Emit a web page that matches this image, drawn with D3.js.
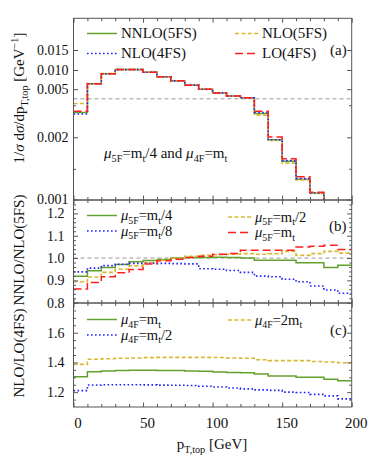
<!DOCTYPE html>
<html><head><meta charset="utf-8">
<script src="https://cdn.jsdelivr.net/npm/d3@7"></script>
<style>
body{margin:0;background:#fff;}
svg{display:block;font-family:"Liberation Serif","Times New Roman",serif;}
</style></head><body>
<svg id="c" width="374" height="462"></svg>
<script>
// ---------------- data ----------------
const binEdges = [0,10,20,30,40,50,60,70,80,90,100,110,120,130,140,150,160,170,180,190,200];
const xTicksMajor = [0,50,100,150,200];
const xTicksMinor = [10,20,30,40,60,70,80,90,110,120,130,140,160,170,180,190];

// panel (a): normalized distributions
const distNNLO5F = [0.00355,0.0064,0.00903,0.0101,0.0101,0.0094,0.00824,0.00718,0.00605,0.0050,0.00477,0.00458,0.00446,0.00349,0.00196,0.00162,0.00133,0.00110,0.0008,0.0008];
const distNLO5F  = [0.00411,0.0065,0.00905,0.0101,0.0101,0.0094,0.00824,0.00718,0.00605,0.0050,0.00477,0.00458,0.00446,0.00338,0.00195,0.00159,0.00132,0.00110,0.0008,0.0008];
const distNLO4F  = [0.00345,0.0064,0.00903,0.0101,0.0101,0.0094,0.00824,0.00718,0.00605,0.0050,0.00477,0.00458,0.00446,0.00355,0.00196,0.00163,0.00134,0.00111,0.0008,0.0008];
const distLO4F   = [0.00363,0.0064,0.00903,0.0101,0.0101,0.0094,0.00824,0.00718,0.00605,0.0050,0.00477,0.00458,0.00446,0.00363,0.00202,0.00166,0.00137,0.00112,0.0008,0.0008];
const distRefLine = 0.0044;
const yTicksA = [0.001,0.002,0.005,0.010,0.015];
const yMinorA = [0.0015,0.004];

// panel (b): NNLO/NLO (5FS)
const r5F_mt4 = [0.919,0.943,0.958,0.971,0.983,0.989,0.994,1.000,1.003,1.003,1.004,1.003,1.000,0.990,0.990,0.990,0.979,0.979,0.958,0.968];
const r5F_mt2 = [0.894,0.915,0.936,0.950,0.965,0.980,0.990,1.000,1.008,1.012,1.015,1.017,1.020,1.017,1.020,1.030,1.012,1.020,1.030,1.022];
const r5F_mt8 = [0.938,0.955,0.966,0.972,0.976,0.977,0.976,0.975,0.974,0.952,0.950,0.944,0.936,0.919,0.916,0.905,0.894,0.875,0.857,0.842];
const r5F_mt1 = [0.861,0.891,0.916,0.934,0.949,0.973,0.988,0.995,1.003,1.008,1.017,1.020,1.035,1.035,1.035,1.035,1.050,1.053,1.057,1.038];
const yTicksB = [0.8,0.9,1.0,1.1,1.2];
const yMinorB = [0.82,0.84,0.86,0.88,0.92,0.94,0.96,0.98,1.02,1.04,1.06,1.08,1.12,1.14,1.16,1.18,1.22,1.24];

// panel (c): NLO/LO (4FS)
const r4F_mt1  = [1.304,1.338,1.342,1.345,1.347,1.347,1.346,1.345,1.342,1.340,1.336,1.333,1.330,1.322,1.309,1.309,1.300,1.300,1.286,1.277];
const r4F_2mt  = [1.387,1.421,1.425,1.428,1.430,1.432,1.434,1.434,1.434,1.434,1.433,1.430,1.428,1.418,1.412,1.412,1.412,1.406,1.403,1.398];
const r4F_mt2  = [1.210,1.248,1.250,1.250,1.250,1.249,1.247,1.246,1.245,1.240,1.235,1.228,1.222,1.215,1.212,1.200,1.198,1.185,1.175,1.155];
const yTicksC = [1.2,1.4,1.6];
const yMinorC = [1.15,1.25,1.3,1.35,1.45,1.5,1.55,1.65,1.7,1.75];

// ---------------- styles ----------------
const C = {green:"#63a12d", yellow:"#d8b930", blue:"#1f1fff", red:"#ff1f1f"};
const ST = {
  green:{color:C.green, dash:null, w:1.5},
  yellow:{color:C.yellow, dash:"4,2.4", w:1.6},
  blue:{color:C.blue, dash:"1.6,2.4", w:1.6},
  red:{color:C.red, dash:"8,4", w:1.5}
};
const FRAME = "#555";
const FS = 15;
const TFS = 14;

const svg = d3.select("#c");
const X0 = 73.5, X1 = 351.7;
const x = d3.scaleLinear().domain([0,200]).range([X0,X1]);

const panels = {
  a:{top:18.3,bottom:200},
  b:{top:200,bottom:303},
  c:{top:303,bottom:407}
};
const yA = d3.scaleLinear().domain([0.001,0.0015,0.002,0.005,0.010,0.015,0.023])
  .range([199.5,168.8,137.3,89.2,70,50,panels.a.top]);
const yB = d3.scaleLinear().domain([0.8,1.26]).range([panels.b.bottom-0.3,panels.b.top]);
const yC = d3.scaleLinear().domain([1.1,1.8]).range([panels.c.bottom,panels.c.top]);

// rich text helper
function rich(sel, parts, size){
  size = size || FS;
  let cur = 0;
  parts.forEach(p=>{
    const shift = p.sub ? 3.5 : (p.sup ? -6 : 0);
    const ts = sel.append("tspan").text(p.t).attr("dy", shift-cur);
    cur = shift;
    if(p.sub||p.sup) ts.attr("font-size", size*0.68);
    if(p.it) ts.attr("font-style","italic");
  });
  return sel;
}

function stepPath(y, vals){
  const pts = vals.map((v,i)=>[binEdges[i],v]);
  pts.push([binEdges[binEdges.length-1], vals[vals.length-1]]);
  return d3.line().x(d=>x(d[0])).y(d=>y(d[1])).curve(d3.curveStepAfter)(pts);
}

const defs = svg.append("defs");
Object.entries(panels).forEach(([k,p])=>{
  defs.append("clipPath").attr("id","clip-"+k).append("rect")
    .attr("x",X0).attr("y",p.top).attr("width",X1-X0).attr("height",p.bottom-p.top);
});

function drawSeries(k, y, vals, st){
  svg.append("path").attr("clip-path","url(#clip-"+k+")")
    .attr("d", stepPath(y, vals)).attr("fill","none")
    .attr("stroke", st.color).attr("stroke-width", st.w)
    .attr("stroke-dasharray", st.dash);
}

function refLine(k, y, v){
  svg.append("line").attr("x1",X0).attr("x2",X1).attr("y1",y(v)).attr("y2",y(v))
    .attr("stroke","#9a9a9a").attr("stroke-width",1).attr("stroke-dasharray","4,3");
}

function axes(k, y, major, minor, fmt, labelX){
  const p = panels[k];
  const gl = svg.append("g").attr("transform",`translate(${X0},0)`)
    .call(d3.axisLeft(y).tickValues(major).tickSize(-4.5).tickPadding(labelX).tickFormat(fmt));
  gl.select(".domain").remove();
  gl.selectAll("text").attr("font-size",TFS).attr("font-family","Liberation Serif").attr("fill","#111");
  gl.selectAll("line").attr("stroke",FRAME);
  const gl2 = svg.append("g").attr("transform",`translate(${X0},0)`)
    .call(d3.axisLeft(y).tickValues(minor).tickSize(-2.5).tickFormat(""));
  gl2.select(".domain").remove(); gl2.selectAll("line").attr("stroke",FRAME);
  [[major,4.5],[minor,2.5]].forEach(([vals,len])=>{
    const g = svg.append("g").attr("transform",`translate(${X1},0)`)
      .call(d3.axisRight(y).tickValues(vals).tickSize(-len).tickFormat(""));
    g.select(".domain").remove(); g.selectAll("line").attr("stroke",FRAME);
  });
  [[xTicksMajor,4.5],[xTicksMinor,3]].forEach(([vals,len])=>{
    const gt = svg.append("g").attr("transform",`translate(0,${p.top})`)
      .call(d3.axisTop(x).tickValues(vals).tickSize(-len).tickFormat(""));
    gt.select(".domain").remove(); gt.selectAll("line").attr("stroke",FRAME);
    const gb = svg.append("g").attr("transform",`translate(0,${p.bottom})`)
      .call(d3.axisBottom(x).tickValues(vals).tickSize(-len).tickFormat(""));
    gb.select(".domain").remove(); gb.selectAll("line").attr("stroke",FRAME);
  });
}

// ---------- panel (a) ----------
refLine("a", yA, distRefLine);
drawSeries("a", yA, distNNLO5F, ST.green);
drawSeries("a", yA, distNLO5F, ST.yellow);
drawSeries("a", yA, distNLO4F, ST.blue);
drawSeries("a", yA, distLO4F, ST.red);
axes("a", yA, yTicksA, yMinorA, d3.format(".3f"), 5);

// ---------- panel (b) ----------
refLine("b", yB, 1.0);
drawSeries("b", yB, r5F_mt4, ST.green);
drawSeries("b", yB, r5F_mt2, ST.yellow);
drawSeries("b", yB, r5F_mt8, ST.blue);
drawSeries("b", yB, r5F_mt1, ST.red);
axes("b", yB, yTicksB, yMinorB, d3.format(".1f"), 9);

// ---------- panel (c) ----------
drawSeries("c", yC, r4F_mt1, ST.green);
drawSeries("c", yC, r4F_2mt, ST.yellow);
drawSeries("c", yC, r4F_mt2, ST.blue);
axes("c", yC, yTicksC, yMinorC, d3.format(".1f"), 9);

// x labels bottom
const gx = svg.append("g").attr("transform",`translate(4,${panels.c.bottom})`)
  .call(d3.axisBottom(x).tickValues(xTicksMajor).tickSize(0).tickPadding(10).tickFormat(d3.format("d")));
gx.select(".domain").remove();
gx.selectAll("text").attr("font-size",FS).attr("font-family","Liberation Serif").attr("fill","#111");

// frames
Object.values(panels).forEach(p=>{
  svg.append("rect").attr("x",X0).attr("y",p.top).attr("width",X1-X0).attr("height",p.bottom-p.top)
    .attr("fill","none").attr("stroke",FRAME).attr("stroke-width",1);
});

// legends
function legendItem(x1, yl, st, parts, size){
  size = size || FS;
  const long = (st===ST.green||st===ST.blue);
  svg.append("line").attr("x1",x1).attr("x2",x1+(long?30:24)).attr("y1",yl).attr("y2",yl)
    .attr("stroke",st.color).attr("stroke-width",st.w).attr("stroke-dasharray",st.dash);
  const t = svg.append("text").attr("x", x1+(long?34:27)).attr("y", yl+4.5)
    .attr("font-size",size).attr("fill","#111");
  rich(t, parts, size);
}
function label(xp, yp, s){
  svg.append("text").attr("x",xp).attr("y",yp).attr("font-size",FS).attr("fill","#111").text(s);
}
const mu = (sub, rhs) => [{t:"μ",it:1},{t:sub,sub:1},{t:"=m"},{t:"t",sub:1}].concat(rhs?[{t:rhs}]:[]);

// (a)
legendItem(87, 33.5, ST.green, [{t:"NNLO(5FS)"}]);
legendItem(87, 53.5, ST.blue, [{t:"NLO(4FS)"}]);
legendItem(235, 33.5, ST.yellow, [{t:"NLO(5FS)"}]);
legendItem(235, 53.5, ST.red, [{t:"LO(4FS)"}]);
label(330, 55, "(a)");
rich(svg.append("text").attr("x",104).attr("y",158).attr("font-size",FS).attr("fill","#111"),
  [{t:"μ",it:1},{t:"5F",sub:1},{t:"=m"},{t:"t",sub:1},{t:"/4 and "},{t:"μ",it:1},{t:"4F",sub:1},{t:"=m"},{t:"t",sub:1}]);

// (b)
const LFS = 14.5;
legendItem(87, 215.5, ST.green, mu("5F","/4"), LFS);
legendItem(87, 231, ST.blue, mu("5F","/8"), LFS);
legendItem(228, 217, ST.yellow, mu("5F","/2"), LFS);
legendItem(228, 232.5, ST.red, mu("5F",""), LFS);
label(329, 231, "(b)");

// (c)
legendItem(87, 319.5, ST.green, mu("4F",""), LFS);
legendItem(87, 335, ST.blue, mu("4F","/2"), LFS);
legendItem(228, 320, ST.yellow, [{t:"μ",it:1},{t:"4F",sub:1},{t:"=2m"},{t:"t",sub:1}], LFS);
label(330, 335, "(c)");

// axis titles
rich(svg.append("text").attr("transform","translate(24,98) rotate(-90)").attr("text-anchor","middle")
  .attr("font-size",FS).attr("fill","#111"),
  [{t:"1/"},{t:"σ",it:1},{t:" d"},{t:"σ",it:1},{t:"/dp"},{t:"T,top",sub:1},{t:" [GeV"},{t:"−1",sup:1},{t:"]"}]);
svg.append("text").attr("transform","translate(24,250) rotate(-90)").attr("text-anchor","middle")
  .attr("font-size",FS).attr("fill","#111").text("NNLO/NLO(5FS)");
svg.append("text").attr("transform","translate(24,353) rotate(-90)").attr("text-anchor","middle")
  .attr("font-size",FS).attr("fill","#111").text("NLO/LO(4FS)");
rich(svg.append("text").attr("x",212).attr("y",449).attr("text-anchor","middle").attr("font-size",FS).attr("fill","#111"),
  [{t:"p"},{t:"T,top",sub:1},{t:" [GeV]"}]);
</script>
</body></html>
